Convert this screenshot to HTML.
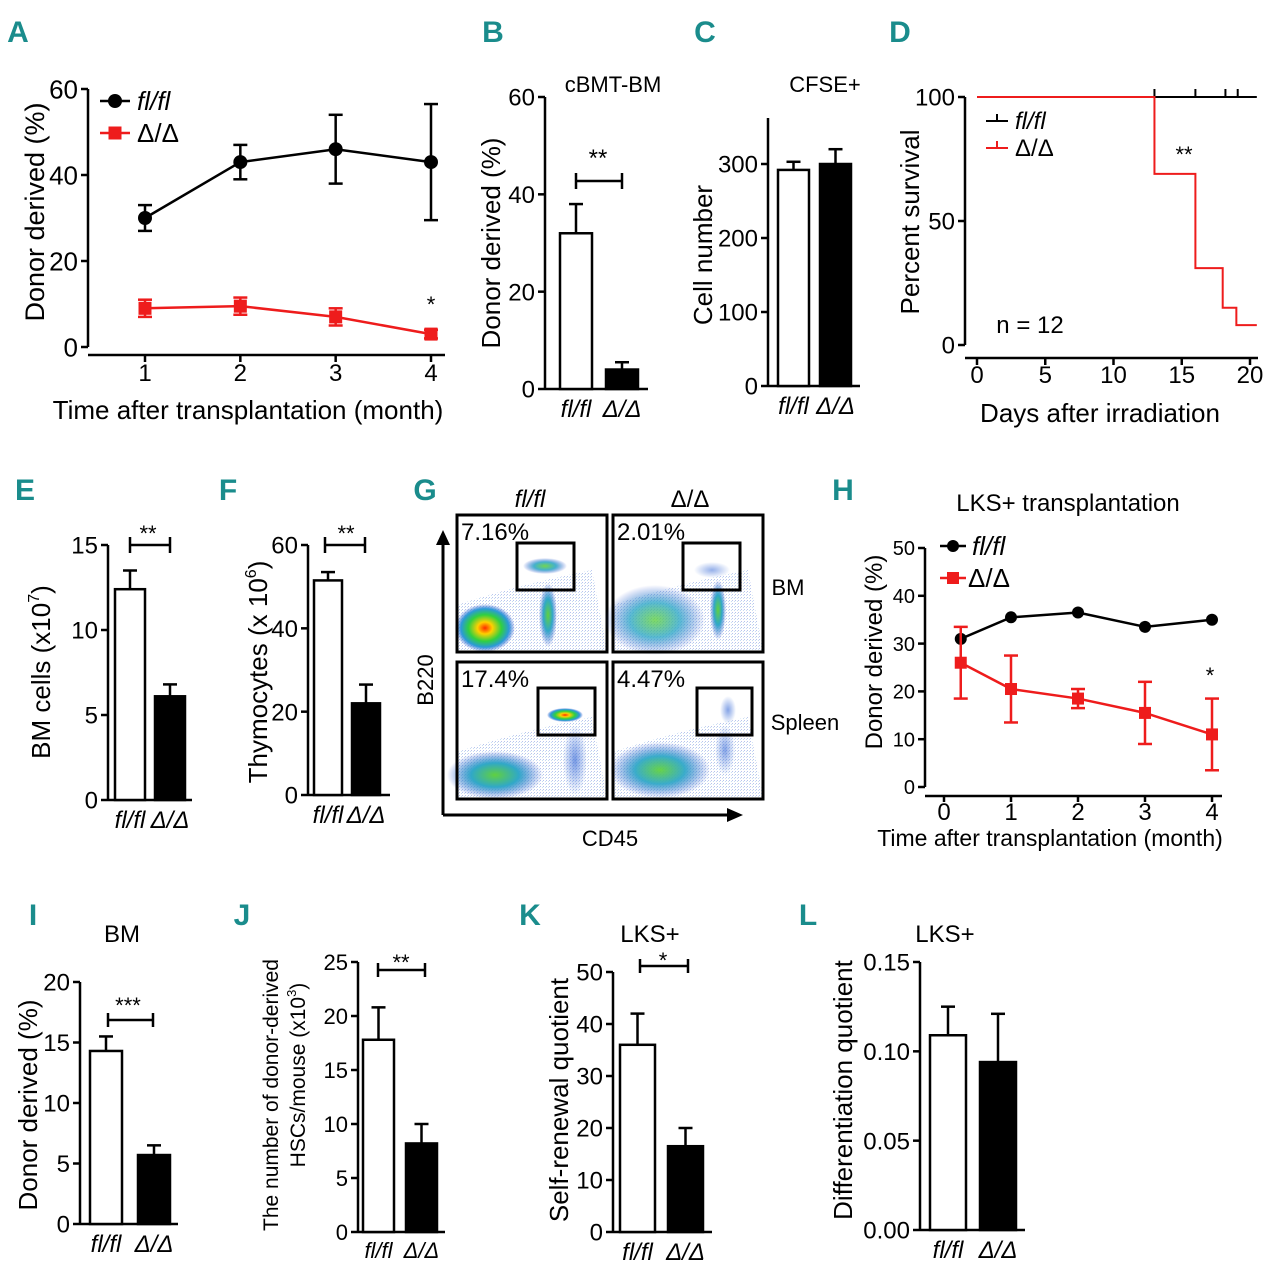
<!DOCTYPE html>
<html><head><meta charset="utf-8">
<style>
html,body{margin:0;padding:0;background:#fff;}
svg{display:block;font-family:"Liberation Sans",sans-serif;}
</style></head>
<body>
<svg id="fig" width="1280" height="1279" viewBox="0 0 1280 1279" xmlns="http://www.w3.org/2000/svg">
<defs>
<pattern id="dots" width="3" height="3" patternUnits="userSpaceOnUse"><rect width="1" height="1" fill="#3355cc"/><rect x="2" y="1" width="1" height="1" fill="#66a0dd"/></pattern>
<radialGradient id="heat"><stop offset="0" stop-color="#ff2a00"/><stop offset="0.25" stop-color="#ffd000"/><stop offset="0.55" stop-color="#30d040"/><stop offset="0.8" stop-color="#2a9ad8"/><stop offset="1" stop-color="#3050d0" stop-opacity="0"/></radialGradient>
<radialGradient id="cool"><stop offset="0" stop-color="#60d040"/><stop offset="0.5" stop-color="#30a8c8"/><stop offset="1" stop-color="#3050d0" stop-opacity="0"/></radialGradient>
<radialGradient id="faint"><stop offset="0" stop-color="#4070d8" stop-opacity="0.8"/><stop offset="1" stop-color="#4070d8" stop-opacity="0"/></radialGradient>
</defs>
</svg>
<script>
// ===== DATA =====
const aMonths = [1, 2, 3, 4];
const aFlfl = [30, 43, 46, 43];
const aFlflErr = [3, 4, 8, 13.5];
const aDel = [9, 9.5, 7, 3];
const aDelErr = [2, 2, 2, 1];
const aTicks = [0, 20, 40, 60];

const bVals = [32, 4];
const bErrs = [6, 1.5];
const bTicks = [0, 20, 40, 60];

const cVals = [292, 300];
const cErrs = [11, 20];
const cTicks = [0, 100, 200, 300];

const dDaysDel = [0, 13, 16, 18, 19, 20.5];
const dSurvDel = [100, 69, 31, 15, 8, 8];
const dCensorFl = [13, 16, 18.2, 19.1];
const dTicksX = [0, 5, 10, 15, 20];
const dTicksY = [0, 50, 100];

const eVals = [12.4, 6.1];
const eErrs = [1.1, 0.7];
const eTicks = [0, 5, 10, 15];

const fVals = [51.5, 22];
const fErrs = [2, 4.5];
const fTicks = [0, 20, 40, 60];

const hMonths = [0.25, 1, 2, 3, 4];
const hFlfl = [31, 35.5, 36.5, 33.5, 35];
const hDel = [26, 20.5, 18.5, 15.5, 11];
const hDelErr = [7.5, 7, 2, 6.5, 7.5];
const hTicksX = [0, 1, 2, 3, 4];
const hTicksY = [0, 10, 20, 30, 40, 50];

const iVals = [14.3, 5.7];
const iErrs = [1.2, 0.8];
const iTicks = [0, 5, 10, 15, 20];

const jVals = [17.8, 8.2];
const jErrs = [3, 1.8];
const jTicks = [0, 5, 10, 15, 20, 25];

const kVals = [36, 16.5];
const kErrs = [6, 3.5];
const kTicks = [0, 10, 20, 30, 40, 50];

const lVals = [0.109, 0.094];
const lErrs = [0.016, 0.027];
const lTicks = [0, 0.05, 0.10, 0.15];
const lTickLabels = ["0.00", "0.05", "0.10", "0.15"];

const groups = ["fl/fl", "Δ/Δ"];

// ===== HELPERS =====
const NS = "http://www.w3.org/2000/svg";
const S = document.getElementById('fig');
function el(tag, attrs, name) {
  const e = document.createElementNS(NS, tag);
  for (const k in attrs) e.setAttribute(k, attrs[k]);
  
  
  S.appendChild(e);
  return e;
}
function line(x1, y1, x2, y2, name, color, w) {
  return el('line', {x1, y1, x2, y2, stroke: color || '#000', 'stroke-width': w || 2.5}, name);
}
function txt(x, y, s, size, name, opts) {
  opts = opts || {};
  const a = {x, y, 'font-size': size, 'text-anchor': opts.anchor || 'middle', fill: opts.fill || '#000'};
  if (opts.italic) a['font-style'] = 'italic';
  if (opts.bold) a['font-weight'] = 'bold';
  if (opts.rot) a.transform = 'rotate(-90 ' + x + ' ' + y + ')';
  if (opts.family) a['font-family'] = opts.family;
  const t = el('text', a, name);
  t.textContent = s;
  return t;
}
// rotated title with superscript: pre + sup + post
function supTitle(x, y, pre, sup, post, size, name) {
  const t = txt(x, y, '', size, name, {rot: true});
  const a = document.createElementNS(NS, 'tspan');
  
  
  a.textContent = pre;
  const b = document.createElementNS(NS, 'tspan');
  
  
  b.setAttribute('font-size', Math.round(size * 0.62));
  b.setAttribute('dy', -size * 0.42);
  b.textContent = sup;
  const c = document.createElementNS(NS, 'tspan');
  
  
  c.setAttribute('dy', size * 0.42);
  c.textContent = post;
  t.appendChild(a); t.appendChild(b); t.appendChild(c);
  return t;
}
function letter(x, y, s) {
  return txt(x, y, s, 30, 'panel-label-' + s.toLowerCase(), {anchor: 'middle', fill: '#1a8c8c', bold: true, family: '"Liberation Sans Narrow","Liberation Sans",sans-serif'});
}
function yScale(y0, yTop, vmax) { return v => y0 - v / vmax * (y0 - yTop); }
function xScale(x0, x1, v0, v1) { return v => x0 + (v - v0) / (v1 - v0) * (x1 - x0); }

function yAxis(ax, ys, ticks, labels, fs, name) {
  line(ax, ys(ticks[ticks.length - 1]), ax, ys(ticks[0]), name + '-y-axis');
  ticks.forEach((t, i) => {
    line(ax - 7, ys(t), ax, ys(t), name + '-y-tick');
    txt(ax - 10, ys(t) + fs * 0.36, labels ? labels[i] : String(t), fs, name + '-y-tick-label', {anchor: 'end'});
  });
}
function barPanel(p) {
  const ys = yScale(p.y0, p.yTop, p.vmax);
  yAxis(p.ax, ys, p.ticks, p.labels, p.fs, p.name);
  line(p.ax, p.y0, p.xEnd, p.y0, p.name + '-x-axis');
  p.vals.forEach((v, i) => {
    const x = p.bx[i], w = p.bw;
    const top = ys(v + p.errs[i]);
    line(x + w / 2, ys(v), x + w / 2, top, p.name + '-error-bar');
    line(x + w / 2 - 7, top, x + w / 2 + 7, top, p.name + '-error-cap');
    el('rect', {x, y: ys(v), width: w, height: p.y0 - ys(v), fill: i === 0 ? '#fff' : '#000', stroke: '#000', 'stroke-width': 2.5}, p.name + '-bar-' + (i === 0 ? 'flfl' : 'delta'));
    txt(x + w / 2, p.y0 + p.fs + 4, groups[i], p.fs, p.name + '-category-label', {italic: true});
  });
}

// ===== PANEL A =====
letter(18, 42, 'A');
(function () {
  const ys = yScale(347, 89, 60), xs = xScale(145, 431, 1, 4);
  yAxis(88, ys, aTicks, null, 26, 'a');
  line(88, 355, 445, 355, 'a-x-axis');
  aMonths.forEach(m => { line(xs(m), 355, xs(m), 362, 'a-x-tick'); txt(xs(m), 381, String(m), 24, 'a-x-tick-label'); });
  [[aFlfl, aFlflErr, '#000', 'flfl'], [aDel, aDelErr, '#ee1c1c', 'delta']].forEach(s => {
    const pts = aMonths.map((m, i) => xs(m) + ',' + ys(s[0][i])).join(' ');
    el('polyline', {points: pts, fill: 'none', stroke: s[2], 'stroke-width': 2.5}, 'a-line-' + s[3]);
    aMonths.forEach((m, i) => {
      const v = s[0][i], e = s[1][i];
      line(xs(m), ys(v - e), xs(m), ys(v + e), 'a-error-bar', s[2]);
      line(xs(m) - 7, ys(v + e), xs(m) + 7, ys(v + e), 'a-error-cap', s[2]);
      line(xs(m) - 7, ys(v - e), xs(m) + 7, ys(v - e), 'a-error-cap', s[2]);
      if (s[3] === 'flfl') el('circle', {cx: xs(m), cy: ys(v), r: 7, fill: s[2]}, 'a-point-flfl');
      else el('rect', {x: xs(m) - 6.5, y: ys(v) - 6.5, width: 13, height: 13, fill: s[2]}, 'a-point-delta');
    });
  });
  line(100, 101, 130, 101, 'a-legend-line-flfl');
  el('circle', {cx: 115, cy: 101, r: 7, fill: '#000'}, 'a-legend-marker-flfl');
  txt(137, 110, 'fl/fl', 26, 'a-legend-label-flfl', {anchor: 'start', italic: true});
  line(100, 133, 130, 133, 'a-legend-line-delta', '#ee1c1c');
  el('rect', {x: 108.5, y: 126.5, width: 13, height: 13, fill: '#ee1c1c'}, 'a-legend-marker-delta');
  txt(137, 142, 'Δ/Δ', 26, 'a-legend-label-delta', {anchor: 'start'});
  txt(431, 312, '*', 22, 'a-significance');
  txt(44, 212, 'Donor derived (%)', 27, 'a-y-axis-title', {rot: true});
  txt(248, 419, 'Time after transplantation (month)', 26, 'a-x-axis-title');
})();

// ===== PANEL B =====
letter(493, 42, 'B');
barPanel({name: 'b', ax: 545, y0: 389, yTop: 97, vmax: 60, ticks: bTicks, fs: 24, xEnd: 648, bx: [560, 606], bw: 32, vals: bVals, errs: bErrs});
txt(613, 92, 'cBMT-BM', 22, 'b-title');
line(576, 181, 622, 181, 'b-sig-bracket'); line(576, 173, 576, 189, 'b-sig-bracket-end'); line(622, 173, 622, 189, 'b-sig-bracket-end');
txt(598, 166, '**', 24, 'b-significance');
txt(500, 243, 'Donor derived (%)', 26, 'b-y-axis-title', {rot: true});

// ===== PANEL C =====
letter(705, 42, 'C');
barPanel({name: 'c', ax: 768, y0: 386, yTop: 164, vmax: 300, ticks: cTicks, fs: 24, xEnd: 860, bx: [778, 820], bw: 31, vals: cVals, errs: cErrs});
line(768, 118, 768, 164, 'c-y-axis-ext');
txt(825, 92, 'CFSE+', 22, 'c-title');
txt(712, 255, 'Cell number', 26, 'c-y-axis-title', {rot: true});

// ===== PANEL D =====
letter(900, 42, 'D');
(function () {
  const ys = yScale(345, 97, 100), xs = xScale(977, 1250, 0, 20);
  yAxis(965, ys, dTicksY, null, 24, 'd');
  line(965, 358, 1258, 358, 'd-x-axis');
  dTicksX.forEach(t => { line(xs(t), 358, xs(t), 365, 'd-x-tick'); txt(xs(t), 383, String(t), 24, 'd-x-tick-label'); });
  line(xs(0), ys(100), xs(20.5), ys(100), 'd-line-flfl', '#000', 2);
  dCensorFl.forEach(d => line(xs(d), ys(100) - 8, xs(d), ys(100), 'd-censor-tick-flfl', '#000', 2));
  let pts = [];
  dDaysDel.forEach((d, i) => { if (i > 0) pts.push(xs(d) + ',' + ys(dSurvDel[i - 1])); pts.push(xs(d) + ',' + ys(dSurvDel[i])); });
  el('polyline', {points: pts.join(' '), fill: 'none', stroke: '#ee1c1c', 'stroke-width': 2}, 'd-line-delta');
  line(986, 121, 1008, 121, 'd-legend-line-flfl', '#000', 2); line(997, 114, 997, 121, 'd-legend-tick-flfl', '#000', 2);
  txt(1015, 129, 'fl/fl', 24, 'd-legend-label-flfl', {anchor: 'start', italic: true});
  line(986, 148, 1008, 148, 'd-legend-line-delta', '#ee1c1c', 2); line(997, 141, 997, 148, 'd-legend-tick-delta', '#ee1c1c', 2);
  txt(1015, 156, 'Δ/Δ', 24, 'd-legend-label-delta', {anchor: 'start'});
  txt(1184, 162, '**', 22, 'd-significance');
  txt(1030, 333, 'n = 12', 24, 'd-n-label');
  txt(1100, 422, 'Days after irradiation', 26, 'd-x-axis-title');
  txt(919, 222, 'Percent survival', 26, 'd-y-axis-title', {rot: true});
})();

// ===== PANEL E =====
letter(25, 500, 'E');
barPanel({name: 'e', ax: 108, y0: 800, yTop: 545, vmax: 15, ticks: eTicks, fs: 24, xEnd: 192, bx: [115, 155], bw: 30, vals: eVals, errs: eErrs});
line(130, 545, 170, 545, 'e-sig-bracket'); line(130, 537, 130, 553, 'e-sig-bracket-end'); line(170, 537, 170, 553, 'e-sig-bracket-end');
txt(148, 541, '**', 22, 'e-significance');
supTitle(50, 672, 'BM cells (x10', '7', ')', 26, 'e-y-axis-title');

// ===== PANEL F =====
letter(228, 500, 'F');
barPanel({name: 'f', ax: 308, y0: 795, yTop: 545, vmax: 60, ticks: fTicks, fs: 24, xEnd: 390, bx: [314, 352], bw: 28, vals: fVals, errs: fErrs});
line(325, 545, 365, 545, 'f-sig-bracket'); line(325, 537, 325, 553, 'f-sig-bracket-end'); line(365, 537, 365, 553, 'f-sig-bracket-end');
txt(346, 541, '**', 22, 'f-significance');
supTitle(267, 672, 'Thymocytes (x 10', '6', ')', 26, 'f-y-axis-title');

// ===== PANEL G (flow plots) =====
letter(425, 500, 'G');
(function () {
  const boxes = [
    {x: 457, y: 515, pct: '7.16%', gate: [517, 543, 57, 47], id: 'bm-flfl', blobs: [[485, 628, 30, 24, 'heat', 1], [548, 615, 9, 32, 'cool', 1], [545, 566, 22, 8, 'cool', 0.9]]},
    {x: 613, y: 515, pct: '2.01%', gate: [683, 543, 57, 47], id: 'bm-delta', blobs: [[655, 620, 50, 35, 'cool', 0.8], [718, 610, 8, 30, 'cool', 1], [712, 570, 18, 8, 'faint', 0.7]]},
    {x: 457, y: 662, pct: '17.4%', gate: [538, 688, 57, 47], id: 'spleen-flfl', blobs: [[495, 775, 48, 24, 'cool', 1], [565, 715, 18, 7, 'heat', 1], [575, 760, 12, 35, 'faint', 0.9]]},
    {x: 613, y: 662, pct: '4.47%', gate: [697, 688, 55, 47], id: 'spleen-delta', blobs: [[660, 770, 50, 28, 'cool', 0.95], [725, 750, 10, 25, 'faint', 0.8], [728, 710, 8, 14, 'faint', 0.8]]}
  ];
  boxes.forEach(b => {
    el('path', {d: `M${b.x} ${b.y + 135} L${b.x} ${b.y + 90} Q${b.x + 60} ${b.y + 70} ${b.x + 135} ${b.y + 55} L${b.x + 150} ${b.y + 135} Z`, fill: 'url(#dots)', opacity: 0.35}, 'g-scatter-background-' + b.id);
    b.blobs.forEach(o => {
      el('ellipse', {cx: o[0], cy: o[1], rx: o[2], ry: o[3], fill: 'url(#' + o[4] + ')', opacity: o[5]}, 'g-population-' + b.id);
    });
    el('rect', {x: b.x, y: b.y, width: 150, height: 137, fill: 'none', stroke: '#000', 'stroke-width': 3}, 'g-plot-frame-' + b.id);
    el('rect', {x: b.gate[0], y: b.gate[1], width: b.gate[2], height: b.gate[3], fill: 'none', stroke: '#000', 'stroke-width': 3}, 'g-gate-' + b.id);
    txt(b.x + 4, b.y + 25, b.pct, 24, 'g-gate-percent-' + b.id, {anchor: 'start'});
  });
  txt(530, 507, 'fl/fl', 24, 'g-column-header-flfl', {italic: true});
  txt(690, 507, 'Δ/Δ', 24, 'g-column-header-delta');
  txt(788, 595, 'BM', 22, 'g-row-label-bm');
  txt(805, 730, 'Spleen', 22, 'g-row-label-spleen');
  line(443, 815, 443, 540, 'g-y-arrow-shaft', '#000', 3);
  el('path', {d: 'M436 545 L443 530 L450 545 Z', fill: '#000'}, 'g-y-arrowhead');
  line(443, 815, 730, 815, 'g-x-arrow-shaft', '#000', 3);
  el('path', {d: 'M727 808 L743 815 L727 822 Z', fill: '#000'}, 'g-x-arrowhead');
  txt(433, 680, 'B220', 22, 'g-y-axis-title', {rot: true});
  txt(610, 846, 'CD45', 22, 'g-x-axis-title');
})();

// ===== PANEL H =====
letter(843, 500, 'H');
(function () {
  const ys = yScale(787, 548, 50), xs = xScale(944, 1212, 0, 4);
  yAxis(925, ys, hTicksY, null, 20, 'h');
  line(925, 796, 1222, 796, 'h-x-axis');
  hTicksX.forEach(t => { line(xs(t), 796, xs(t), 802, 'h-x-tick'); txt(xs(t), 820, String(t), 24, 'h-x-tick-label'); });
  el('polyline', {points: hMonths.map((m, i) => xs(m) + ',' + ys(hFlfl[i])).join(' '), fill: 'none', stroke: '#000', 'stroke-width': 2.5}, 'h-line-flfl');
  el('polyline', {points: hMonths.map((m, i) => xs(m) + ',' + ys(hDel[i])).join(' '), fill: 'none', stroke: '#ee1c1c', 'stroke-width': 2.5}, 'h-line-delta');
  hMonths.forEach((m, i) => {
    el('circle', {cx: xs(m), cy: ys(hFlfl[i]), r: 6, fill: '#000'}, 'h-point-flfl');
    const v = hDel[i], e = hDelErr[i];
    line(xs(m), ys(v - e), xs(m), ys(v + e), 'h-error-bar', '#ee1c1c');
    line(xs(m) - 7, ys(v + e), xs(m) + 7, ys(v + e), 'h-error-cap', '#ee1c1c');
    line(xs(m) - 7, ys(v - e), xs(m) + 7, ys(v - e), 'h-error-cap', '#ee1c1c');
    el('rect', {x: xs(m) - 6, y: ys(v) - 6, width: 12, height: 12, fill: '#ee1c1c'}, 'h-point-delta');
  });
  line(940, 546, 966, 546, 'h-legend-line-flfl');
  el('circle', {cx: 953, cy: 546, r: 6, fill: '#000'}, 'h-legend-marker-flfl');
  txt(972, 555, 'fl/fl', 26, 'h-legend-label-flfl', {anchor: 'start', italic: true});
  line(940, 578, 966, 578, 'h-legend-line-delta', '#ee1c1c');
  el('rect', {x: 947, y: 572, width: 12, height: 12, fill: '#ee1c1c'}, 'h-legend-marker-delta');
  txt(968, 587, 'Δ/Δ', 26, 'h-legend-label-delta', {anchor: 'start'});
  txt(1210, 683, '*', 22, 'h-significance');
  txt(1068, 511, 'LKS+ transplantation', 24, 'h-title');
  txt(1050, 846, 'Time after transplantation (month)', 23, 'h-x-axis-title');
  txt(882, 652, 'Donor derived (%)', 24, 'h-y-axis-title', {rot: true});
})();

// ===== PANEL I =====
letter(33, 925, 'I');
barPanel({name: 'i', ax: 80, y0: 1224, yTop: 982, vmax: 20, ticks: iTicks, fs: 24, xEnd: 178, bx: [90, 138], bw: 32, vals: iVals, errs: iErrs});
txt(122, 942, 'BM', 24, 'i-title');
line(108, 1020, 153, 1020, 'i-sig-bracket'); line(108, 1013, 108, 1027, 'i-sig-bracket-end'); line(153, 1013, 153, 1027, 'i-sig-bracket-end');
txt(128, 1013, '***', 22, 'i-significance');
txt(37, 1105, 'Donor derived (%)', 26, 'i-y-axis-title', {rot: true});

// ===== PANEL J =====
letter(242, 925, 'J');
barPanel({name: 'j', ax: 358, y0: 1232, yTop: 962, vmax: 25, ticks: jTicks, fs: 22, xEnd: 445, bx: [363, 406], bw: 31, vals: jVals, errs: jErrs});
line(378, 970, 425, 970, 'j-sig-bracket'); line(378, 963, 378, 977, 'j-sig-bracket-end'); line(425, 963, 425, 977, 'j-sig-bracket-end');
txt(401, 970, '**', 22, 'j-significance');
txt(278, 1095, 'The number of donor-derived', 21, 'j-y-axis-title-line1', {rot: true});
supTitle(305, 1075, 'HSCs/mouse (x10', '3', ')', 21, 'j-y-axis-title-line2');

// ===== PANEL K =====
letter(530, 925, 'K');
barPanel({name: 'k', ax: 613, y0: 1232, yTop: 972, vmax: 50, ticks: kTicks, fs: 24, xEnd: 712, bx: [620, 668], bw: 35, vals: kVals, errs: kErrs});
txt(650, 942, 'LKS+', 24, 'k-title');
line(640, 966, 688, 966, 'k-sig-bracket'); line(640, 959, 640, 973, 'k-sig-bracket-end'); line(688, 959, 688, 973, 'k-sig-bracket-end');
txt(663, 968, '*', 22, 'k-significance');
txt(568, 1100, 'Self-renewal quotient', 26, 'k-y-axis-title', {rot: true});

// ===== PANEL L =====
letter(808, 925, 'L');
barPanel({name: 'l', ax: 920, y0: 1230, yTop: 962, vmax: 0.15, ticks: lTicks, labels: lTickLabels, fs: 24, xEnd: 1025, bx: [930, 980], bw: 36, vals: lVals, errs: lErrs});
txt(945, 942, 'LKS+', 24, 'l-title');
txt(852, 1090, 'Differentiation quotient', 26, 'l-y-axis-title', {rot: true});
</script>
</body></html>
